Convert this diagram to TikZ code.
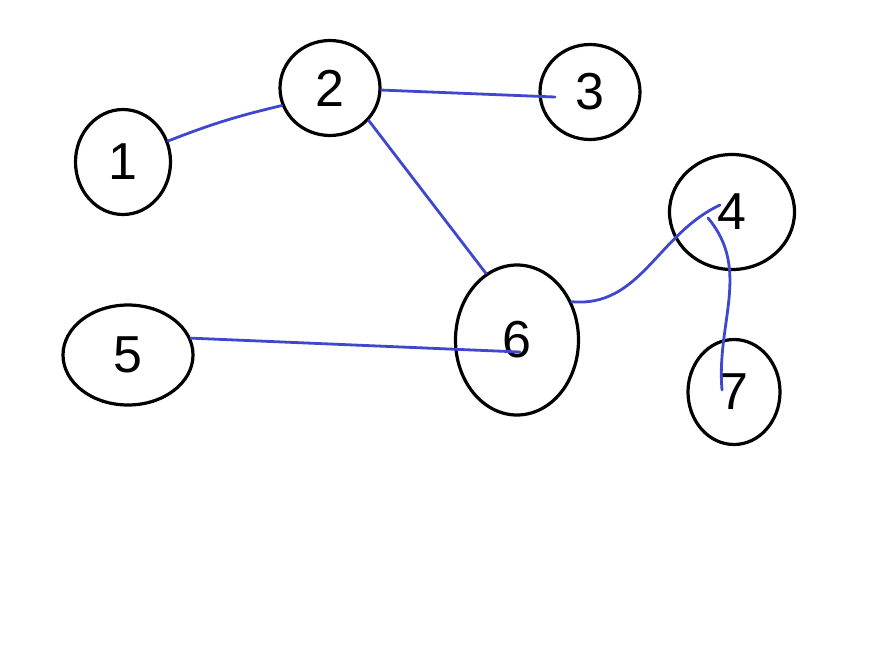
\documentclass[tikz,border=0pt]{standalone}
\usepackage{fontspec}
\setmainfont{Liberation Sans}
\usetikzlibrary{shapes.geometric,calc}
\definecolor{penblue}{RGB}{63,72,204}
\tikzset{
  blob/.style={draw=black, line width=3.2pt, ellipse, inner sep=0pt,
    font=\fontsize{52}{52}\selectfont},
  link/.style={draw=penblue, line width=2.8pt, line cap=round}
}
\begin{document}
\begin{tikzpicture}[x=1pt,y=-1pt]
\useasboundingbox[fill=white] (0,0) rectangle (874,670);
\node[blob, minimum width=95pt, minimum height=105pt] (n1) at (123,162) {1};
\node[blob, minimum width=100pt, minimum height=95pt] (n2) at (330,88) {2};
\node[blob, minimum width=100pt, minimum height=95pt] (n3) at (590,92) {3};
\node[blob, minimum width=125pt, minimum height=115pt] (n4) at (732,212) {4};
\node[blob, minimum width=130pt, minimum height=100pt] (n5) at (128,355) {5};
\node[blob, minimum width=123pt, minimum height=150pt] (n6) at (517,340) {6};
\node[blob, minimum width=92pt, minimum height=105pt] (n7) at (734,392) {7};
\draw[link] (n1.25) to[bend left=4] (n2.200);
\draw[link] (n2) -- ($(n3.center)+(-35,5)$);
\draw[link] (n2.-40) -- (n6.115);
\draw[link] (n5.15) -- ($(n6.center)+(3,12)$);
\draw[link] (n6.35) to[out=-5,in=205] ($(n4.center)+(-12,-7)$);
\draw[link] ($(n4.center)+(-24,6)$) to[out=-50,in=95] ($(n7.center)+(-12,-2)$);
\end{tikzpicture}
\end{document}
